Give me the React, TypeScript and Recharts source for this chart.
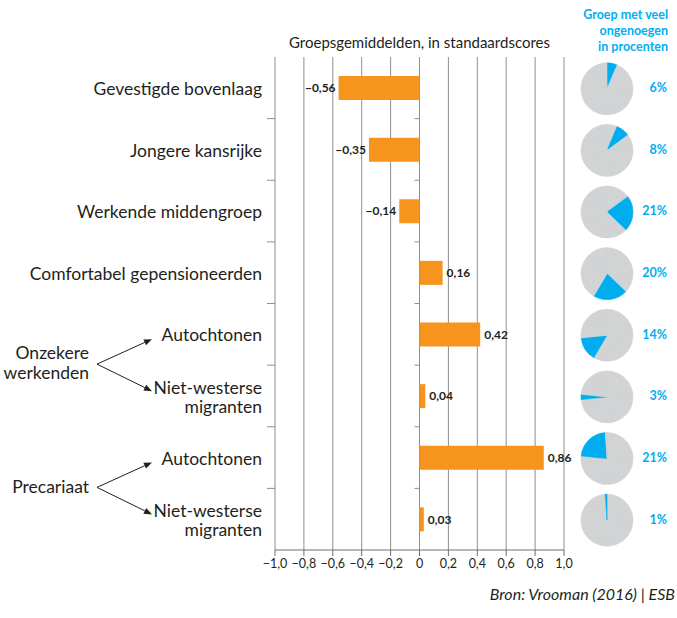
import { BarChart, Bar, XAxis, YAxis, CartesianGrid, LabelList, PieChart, Pie, Cell } from "recharts";

const ROW_IDS = ["gb", "jk", "wm", "cg", "ow-a", "ow-n", "pr-a", "pr-n"];
const ROW_LABELS: string[][] = [
  ["Gevestigde bovenlaag"],
  ["Jongere kansrijke"],
  ["Werkende middengroep"],
  ["Comfortabel gepensioneerden"],
  ["Autochtonen"],
  ["Niet-westerse", "migranten"],
  ["Autochtonen"],
  ["Niet-westerse", "migranten"],
];
const SCORES = [-0.56, -0.35, -0.14, 0.16, 0.42, 0.04, 0.86, 0.03];
const DISCONTENT = [6, 8, 21, 20, 14, 3, 21, 1];
const X_TICKS = [-1, -0.8, -0.6, -0.4, -0.2, 0, 0.2, 0.4, 0.6, 0.8, 1];
const PARENTS = [
  { label: ["Onzekere", "werkenden"], rows: [4, 5] },
  { label: ["Precariaat"], rows: [6, 7] },
];
const TITLE = "Groepsgemiddelden, in standaardscores";
const PIE_TITLE = ["Groep met veel", "ongenoegen", "in procenten"];
const SOURCE = "Bron: Vrooman (2016) | ESB";

const W = 677;
const H = 618;
const X_AXIS_H = 30;
const MARGIN = { top: 57, right: 113, bottom: 68 - X_AXIS_H, left: 0 };
const Y_AXIS_W = 275;
const PLOT_LEFT = MARGIN.left + Y_AXIS_W;
const PLOT_RIGHT = W - MARGIN.right;
const ZERO_X = (PLOT_LEFT + PLOT_RIGHT) / 2;
const PLOT_H = H - MARGIN.top - MARGIN.bottom - X_AXIS_H;
const BAND = PLOT_H / ROW_IDS.length;
const LABEL_RIGHT = 262;
const PIE_CX = 607;

const ORANGE = "#F7941D";
const BLUE = "#00AEEF";
const PIE_GREY = "#D1D3D4";
const GRID = "#8E8E8E";
const INK = "#231F20";
const FONT = "Lato, 'Open Sans', sans-serif";

const data = ROW_IDS.map((id, i) => ({ id, score: SCORES[i] }));

const rowCenter = (i: number) => MARGIN.top + BAND * (i + 0.5);

const fmtScore = (v: number) => (v < 0 ? "\u2212" : "") + Math.abs(v).toFixed(2).replace(".", ",");
const fmtTick = (v: number) => (v === 0 ? "0" : (v < 0 ? "\u2212" : "") + Math.abs(v).toFixed(1).replace(".", ","));

function RowTick({ y, payload }: any) {
  const i = ROW_IDS.indexOf(payload.value);
  const lines = ROW_LABELS[i];
  const lh = 19;
  const y0 = y - ((lines.length - 1) * lh) / 2 + 1;
  const top = y - BAND / 2;
  return (
    <g>
      {lines.map((l, k) => (
        <text key={k} x={LABEL_RIGHT} y={y0 + k * lh} dy="0.35em" textAnchor="end" fontSize={17.5} fontFamily={FONT} fill={INK}>
          {l}
        </text>
      ))}
      {i > 0 && <line x1={PLOT_LEFT - 8} x2={PLOT_LEFT} y1={top} y2={top} stroke={GRID} />}
      {i > 0 && <line x1={ZERO_X - 5} x2={ZERO_X} y1={top} y2={top} stroke={GRID} />}
    </g>
  );
}

function ValueLabel({ x, y, width, height, value }: any) {
  const left = Math.min(x, x + width);
  const right = Math.max(x, x + width);
  const neg = value < 0;
  return (
    <text
      x={neg ? left - 3 : right + 4}
      y={y + height / 2}
      dy="0.35em"
      textAnchor={neg ? "end" : "start"}
      fontSize={12}
      fontWeight={700}
      fontFamily={FONT}
      fill={INK}
    >
      {fmtScore(value)}
    </text>
  );
}

function Arrow({ x1, y1, x2, y2 }: { x1: number; y1: number; x2: number; y2: number }) {
  const a = Math.atan2(y2 - y1, x2 - x1);
  const len = 8;
  const wing = 3.2;
  const bx = x2 - len * Math.cos(a);
  const by = y2 - len * Math.sin(a);
  const px = -Math.sin(a) * wing;
  const py = Math.cos(a) * wing;
  return (
    <g>
      <line x1={x1} y1={y1} x2={bx} y2={by} stroke={INK} strokeWidth={1} />
      <polygon points={`${x2},${y2} ${bx + px},${by + py} ${bx - px},${by - py}`} fill={INK} />
    </g>
  );
}

export default function App() {
  return (
    <div style={{ position: "absolute", left: 0, top: 0, width: W, height: H, background: "#fff", overflow: "hidden" }}>
      <BarChart width={W} height={H} data={data} layout="vertical" margin={MARGIN} barSize={24}>
        <CartesianGrid horizontal={false} stroke={GRID} strokeWidth={1} />
        <XAxis
          type="number"
          domain={[-1, 1]}
          ticks={X_TICKS}
          tickFormatter={fmtTick}
          interval={0}
          height={X_AXIS_H}
          axisLine={{ stroke: "#6E6E6E" }}
          tickLine={{ stroke: "#6E6E6E" }}
          tickSize={6}
          tickMargin={3}
          tick={{ fontSize: 12.5, fontFamily: FONT, fill: INK }}
        />
        <YAxis type="category" dataKey="id" width={Y_AXIS_W} axisLine={false} tickLine={false} tick={<RowTick />} interval={0} />
        <Bar dataKey="score" fill={ORANGE} isAnimationActive={false}>
          <LabelList dataKey="score" content={<ValueLabel />} />
        </Bar>
      </BarChart>

      <div style={{ position: "absolute", left: 0, top: 0, pointerEvents: "none" }}>
        <PieChart width={W} height={H} margin={{ top: 0, right: 0, bottom: 0, left: 0 }}>
          {ROW_IDS.map((id, i) => (
            <Pie
              key={id}
              data={DISCONTENT.map((v, j) => ({ id: ROW_IDS[j], value: v }))}
              dataKey="value"
              nameKey="id"
              cx={PIE_CX}
              cy={rowCenter(i) + 1}
              outerRadius={26}
              innerRadius={0}
              startAngle={90}
              endAngle={-270}
              isAnimationActive={false}
            >
              {DISCONTENT.map((_, j) => (
                <Cell key={j} fill={j === i ? BLUE : PIE_GREY} stroke={j === i ? BLUE : PIE_GREY} strokeWidth={0.6} />
              ))}
            </Pie>
          ))}
        </PieChart>
      </div>

      <svg width={W} height={H} style={{ position: "absolute", left: 0, top: 0, pointerEvents: "none" }}>
        <text x={ZERO_X} y={48} textAnchor="middle" fontSize={15} fontFamily={FONT} fill={INK}>
          {TITLE}
        </text>
        {PIE_TITLE.map((l, k) => (
          <text key={k} x={668} y={19 + k * 16} textAnchor="end" fontSize={12.5} fontWeight={700} fontFamily={FONT} fill={BLUE}>
            {l}
          </text>
        ))}
        {DISCONTENT.map((v, i) => (
          <text key={i} x={667} y={rowCenter(i)} dy="0.35em" textAnchor="end" fontSize={12.5} fontWeight={700} fontFamily={FONT} fill={BLUE}>
            {v}%
          </text>
        ))}
        {PARENTS.map((p, k) => {
          const yb = MARGIN.top + BAND * p.rows[1];
          const lh = 20;
          const y0 = yb - ((p.label.length - 1) * lh) / 2 - 2;
          return (
            <g key={k}>
              {p.label.map((l, m) => (
                <text key={m} x={89} y={y0 + m * lh} dy="0.35em" textAnchor="end" fontSize={17.5} fontFamily={FONT} fill={INK}>
                  {l}
                </text>
              ))}
              <Arrow x1={97} y1={yb - 1} x2={152} y2={yb - 26} />
              <Arrow x1={97} y1={yb - 1} x2={152} y2={yb + 26} />
            </g>
          );
        })}
        <text x={675} y={600} textAnchor="end" fontSize={16} fontStyle="italic" fontFamily={FONT} fill={INK}>
          {SOURCE}
        </text>
      </svg>
    </div>
  );
}
